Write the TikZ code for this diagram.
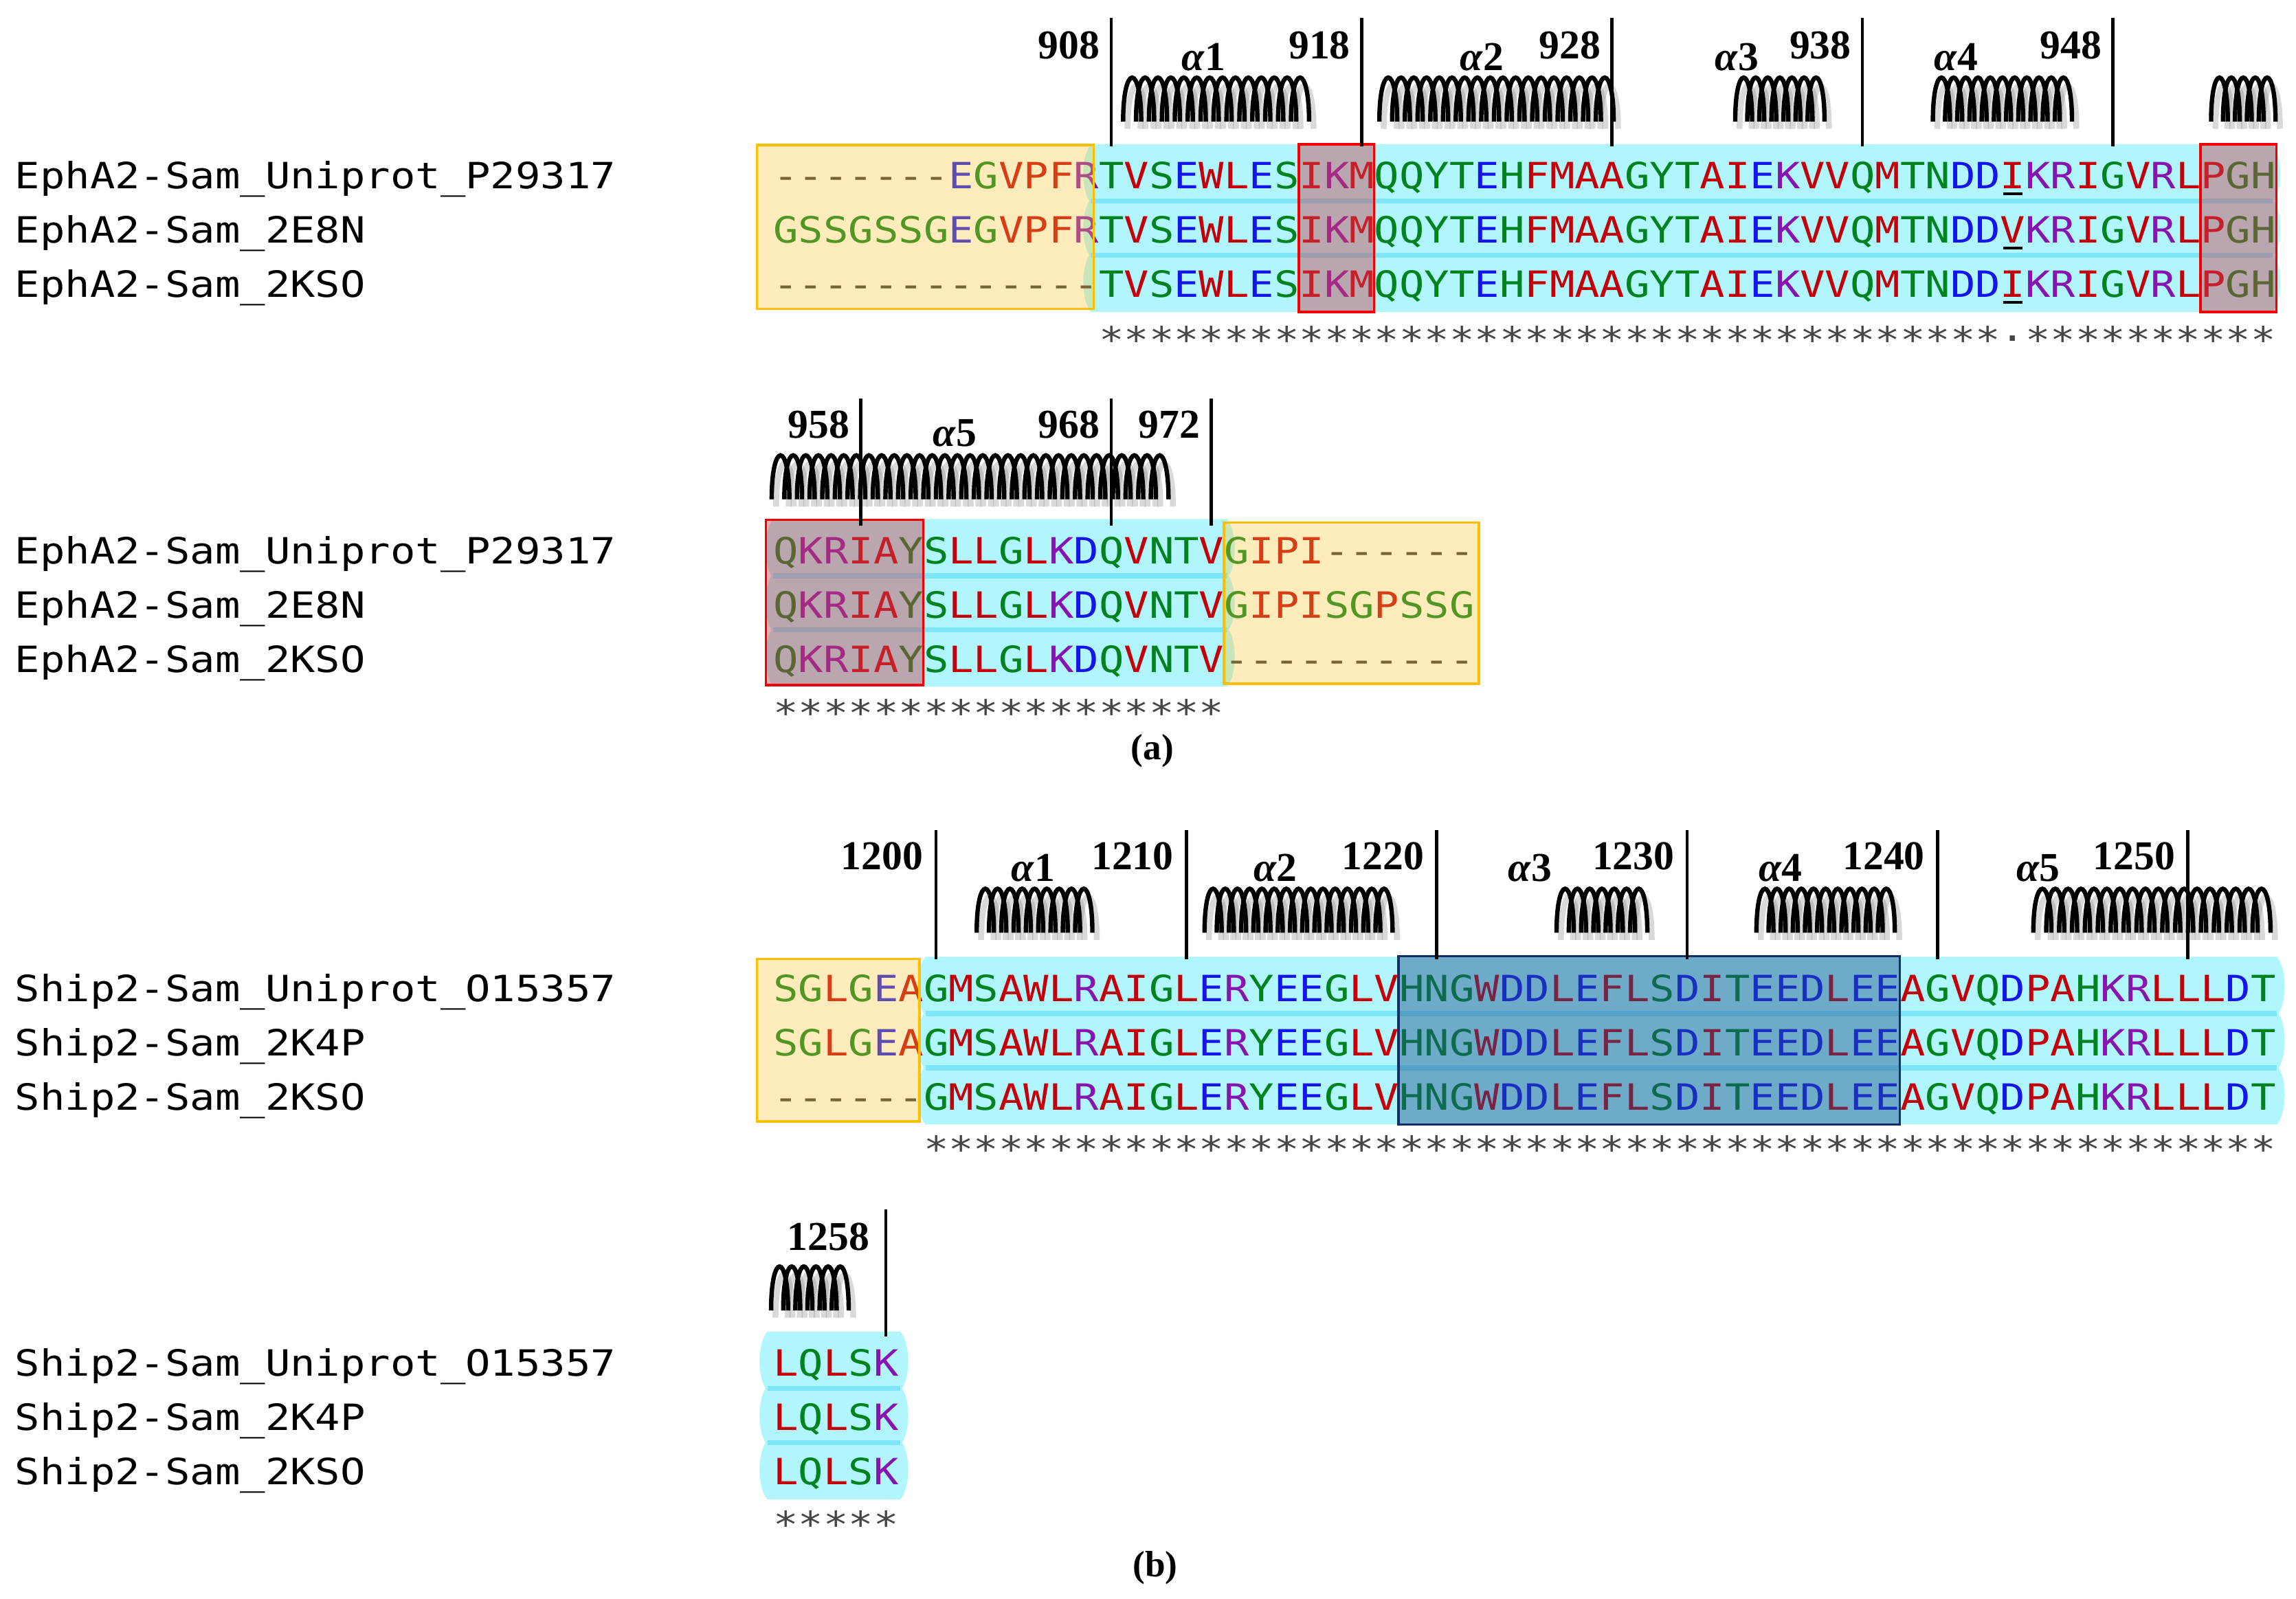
\documentclass[tikz,border=0pt]{standalone}
\usepackage{fontspec}
\setmainfont{Liberation Serif}
\setmonofont{DejaVu Sans Mono}[FakeStretch=1.15]
\usetikzlibrary{positioning}

\definecolor{hyd}{RGB}{195,0,10}
\definecolor{acid}{RGB}{20,20,235}
\definecolor{base}{RGB}{135,20,175}
\definecolor{polar}{RGB}{0,130,30}
\definecolor{gap}{RGB}{55,55,55}
\definecolor{cons}{RGB}{70,70,70}
\definecolor{bandcyan}{RGB}{176,246,252}
\definecolor{bandsep}{RGB}{125,230,250}
\definecolor{tagfill}{RGB}{255,195,50}
\definecolor{tagline}{RGB}{255,190,0}
\definecolor{sitefill}{RGB}{200,70,80}
\definecolor{siteline}{RGB}{240,0,0}
\definecolor{motiffill}{RGB}{30,80,140}
\definecolor{motifline}{RGB}{20,45,100}
\colorlet{rcA}{hyd}\colorlet{rcV}{hyd}\colorlet{rcF}{hyd}\colorlet{rcP}{hyd}
\colorlet{rcM}{hyd}\colorlet{rcI}{hyd}\colorlet{rcL}{hyd}\colorlet{rcW}{hyd}
\colorlet{rcD}{acid}\colorlet{rcE}{acid}
\colorlet{rcR}{base}\colorlet{rcK}{base}
\colorlet{rcS}{polar}\colorlet{rcT}{polar}\colorlet{rcY}{polar}\colorlet{rcH}{polar}
\colorlet{rcC}{polar}\colorlet{rcN}{polar}\colorlet{rcG}{polar}\colorlet{rcQ}{polar}

\makeatletter
\def\seq#1{\seq@#1\relax}
\def\seq@#1{\ifx\relax#1\else\textcolor{rc#1}{#1}\expandafter\seq@\fi}
\makeatother
\newcommand\ulres[1]{\rlap{\hspace{2pt}\rule[-4.5pt]{13pt}{2pt}}\seq{#1}}
\newcommand\gaps[1]{\foreach\k in {1,...,#1}{\textcolor{gap}{-}}}
\newcommand\stars[1]{\foreach\k in {1,...,#1}{\textcolor{cons}{*}}}

\newcommand\helix[3]{%
  \pgfmathtruncatemacro\hn{round((#2-#1)/8.6-0.4)}%
  \pgfmathsetmacro\hp{(#2-#1)/(\hn+0.4)}%
  \foreach \k in {1,...,\hn}{\draw[coilshadow] ({#1+(\k-1)*\hp+3},#3+5) .. controls +(0,-39) and +(0,-39) .. ++(1.4*\hp,0);}%
  \foreach \k in {1,...,\hn}{\draw[coil] ({#1+(\k-1)*\hp},#3) .. controls +(0,-40) and +(0,-40) .. ++(1.4*\hp,0);}%
}
\newcommand\band[3]{%
  \foreach \b in {#3,#3+37,#3+74}{%
    \fill[bandcyan] (#1,\b-30.5) -- (#2,\b-30.5) .. controls (#2+7,\b-22) and (#2+7,\b+1.5) .. (#2,\b+10)
      -- (#1,\b+10) .. controls (#1-7,\b+1.5) and (#1-7,\b-22) .. cycle;}%
  \foreach \b in {#3,#3+37}{\fill[bandsep] (#1,\b+6.5) rectangle (#2,\b+10);}%
}

\tikzset{
  lab/.style={anchor=base west,inner sep=0pt,font=\ttfamily\fontsize{24.7}{30}\selectfont},
  num/.style={anchor=base east,inner sep=0pt,font=\bfseries\fontsize{28}{32}\selectfont},
  hlab/.style={anchor=base,inner sep=0pt,font=\bfseries\fontsize{28}{32}\selectfont},
  panel/.style={anchor=base,inner sep=0pt,font=\bfseries\fontsize{25}{30}\selectfont},
  tick/.style={line width=2.2pt},
  coil/.style={line width=3pt},
  coilshadow/.style={line width=4pt,gray,opacity=.3},
  tagbox/.style={fill=tagfill,fill opacity=.32,draw=tagline,line width=1.6pt},
  sitebox/.style={fill=sitefill,fill opacity=.45,draw=siteline,line width=1.6pt},
  motifbox/.style={fill=motiffill,fill opacity=.45,draw=motifline,line width=1.6pt}
}

\begin{document}
\begin{tikzpicture}[x=1pt,y=-1pt]
\useasboundingbox (0,0) rectangle (1568,1092);
\band{745}{1552}{129}
\band{528}{838}{385}
\band{632}{1555}{684}
\band{524}{615}{940}

\foreach \b/\p in {129/a,385/aa}{
  \node[lab] (\p-l1) at (10,\b) {EphA2-Sam\_Uniprot\_P29317};
  \node[lab] (\p-l2) at (10,\b+37) {EphA2-Sam\_2E8N};
  \node[lab] (\p-l3) at (10,\b+74) {EphA2-Sam\_2KSO};}
\foreach \b/\p in {684/b,940/bb}{
  \node[lab] (\p-l1) at (10,\b) {Ship2-Sam\_Uniprot\_O15357};
  \node[lab] (\p-l2) at (10,\b+37) {Ship2-Sam\_2K4P};
  \node[lab] (\p-l3) at (10,\b+74) {Ship2-Sam\_2KSO};}

\node[lab] (a-s1) at (528,129) {\gaps{7}\seq{EGVPFRTVSEWLESIKMQQYTEHFMAAGYTAIEKVVQMTNDD}\ulres{I}\seq{KRIGVRLPGH}};
\node[lab] (a-s2) at (528,166) {\seq{GSSGSSGEGVPFRTVSEWLESIKMQQYTEHFMAAGYTAIEKVVQMTNDD}\ulres{V}\seq{KRIGVRLPGH}};
\node[lab] (a-s3) at (528,203) {\gaps{13}\seq{TVSEWLESIKMQQYTEHFMAAGYTAIEKVVQMTNDD}\ulres{I}\seq{KRIGVRLPGH}};
\node[lab] (a-c) at (750.3,241) {\stars{36}\textcolor{cons}{\raisebox{8pt}{.}}\stars{10}};
\draw[tagbox] (517,99) rectangle (747,211);
\draw[sitebox] (887,98.5) rectangle (938.4,213);
\draw[sitebox] (1502.7,98.5) rectangle (1554.5,213);
\foreach \p/\q in {767/894,942/1102,1185/1246,1320/1415,1510/1554}{\helix{\p}{\q}{83}}
\foreach \x/\k in {822/1,1012/2,1186/3,1336/4}{\node[hlab] (a-h\k) at (\x,48) {\textit{α}\k};}
\foreach \i/\n in {13/908,23/918,33/928,43/938,53/948}{
  \draw[tick] (536.55+17.1*\i,12) -- (536.55+17.1*\i,100);
  \node[num] (n\n) at (529+17.1*\i,40) {\n};}

\node[lab] (aa-s1) at (528,385) {\seq{QKRIAYSLLGLKDQVNTVGIPI}\gaps{6}};
\node[lab] (aa-s2) at (528,422) {\seq{QKRIAYSLLGLKDQVNTVGIPISGPSSG}};
\node[lab] (aa-s3) at (528,459) {\seq{QKRIAYSLLGLKDQVNTV}\gaps{10}};
\node[lab] (aa-c) at (528,496) {\stars{18}};
\draw[sitebox] (523,355) rectangle (630.6,468);
\draw[tagbox] (835.8,357) rectangle (1010,467);
\helix{527}{798}{341}
\node[hlab] (aa-h5) at (652,305) {\textit{α}5};
\foreach \i/\n in {3/958,13/968,17/972}{
  \draw[tick] (536.55+17.1*\i,272) -- (536.55+17.1*\i,359);
  \node[num] (n\n) at (529+17.1*\i,299) {\n};}
\node[panel] (cap-a) at (787,519) {(a)};

\node[lab] (b-s1) at (528,684) {\seq{SGLGEAGMSAWLRAIGLERYEEGLVHNGWDDLEFLSDITEEDLEEAGVQDPAHKRLLLDT}};
\node[lab] (b-s2) at (528,721) {\seq{SGLGEAGMSAWLRAIGLERYEEGLVHNGWDDLEFLSDITEEDLEEAGVQDPAHKRLLLDT}};
\node[lab] (b-s3) at (528,758) {\gaps{6}\seq{GMSAWLRAIGLERYEEGLVHNGWDDLEFLSDITEEDLEEAGVQDPAHKRLLLDT}};
\node[lab] (b-c) at (630.6,794) {\stars{54}};
\draw[tagbox] (517,655) rectangle (628,766);
\draw[motifbox] (955,653) rectangle (1297.5,768);
\foreach \p/\q in {667/746,822.6/951,1063/1125,1199.5/1294,1388.6/1550.6}{\helix{\p}{\q}{637}}
\foreach \x/\k in {705.5/1,871/2,1045/3,1216/4,1392/5}{\node[hlab] (b-h\k) at (\x,602) {\textit{α}\k};}
\foreach \i/\n in {6/1200,16/1210,26/1220,36/1230,46/1240,56/1250}{
  \draw[tick] (536.55+17.1*\i,567) -- (536.55+17.1*\i,655);
  \node[num] (n\n) at (528+17.1*\i,594) {\n};}

\foreach \b [count=\r] in {940,977,1014}{\node[lab] (bb-s\r) at (528,\b) {\seq{LQLSK}};}
\node[lab] (bb-c) at (528,1050) {\stars{5}};
\helix{526.6}{579.6}{895}
\draw[tick] (604.95,826) -- (604.95,913);
\node[num] (n1258) at (594,854) {1258};
\node[panel] (cap-b) at (789,1077) {(b)};
\end{tikzpicture}
\end{document}
